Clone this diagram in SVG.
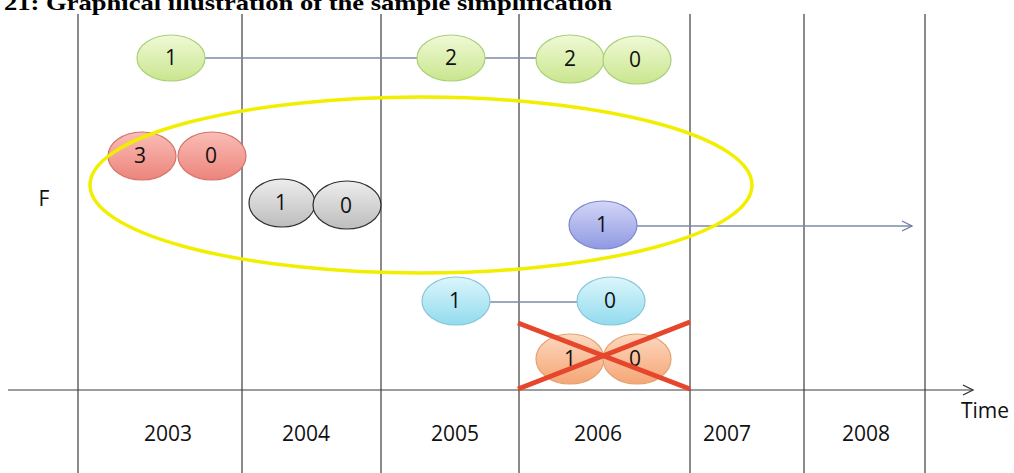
<svg xmlns="http://www.w3.org/2000/svg" width="1014" height="473" viewBox="0 0 1014 473">
<style>
.grid{stroke:#3c3c3c;stroke-width:1.2;fill:none}
.conn{stroke:#7f8aa8;stroke-width:1.3;fill:none}
.lbl{font-family:"Open Sans","Liberation Sans",sans-serif;font-size:21px;fill:#111;text-anchor:middle}
.num{font-family:"Open Sans","Liberation Sans",sans-serif;font-size:21px;fill:#111;text-anchor:middle}
.title{font-family:"Liberation Serif",serif;font-weight:bold;font-size:22px;fill:#000}
</style>
<defs>
<linearGradient id="gG" x1="0" y1="0" x2="0" y2="1"><stop offset="0" stop-color="#f0f9d6"/><stop offset="1" stop-color="#c9e68e"/></linearGradient>
<linearGradient id="gR" x1="0" y1="0" x2="0" y2="1"><stop offset="0" stop-color="#f9bdb6"/><stop offset="1" stop-color="#ec847a"/></linearGradient>
<linearGradient id="gK" x1="0" y1="0" x2="0" y2="1"><stop offset="0" stop-color="#ededed"/><stop offset="1" stop-color="#bdbdbd"/></linearGradient>
<linearGradient id="gB" x1="0" y1="0" x2="0" y2="1"><stop offset="0" stop-color="#d3d6f7"/><stop offset="1" stop-color="#8f99e3"/></linearGradient>
<linearGradient id="gC" x1="0" y1="0" x2="0" y2="1"><stop offset="0" stop-color="#dcf6fb"/><stop offset="1" stop-color="#92dbee"/></linearGradient>
<linearGradient id="gO" x1="0" y1="0" x2="0" y2="1"><stop offset="0" stop-color="#fdd8bf"/><stop offset="1" stop-color="#f5a675"/></linearGradient>
<marker id="arrowAxis" markerUnits="userSpaceOnUse" markerWidth="14" markerHeight="14" refX="11" refY="6" orient="auto"><path d="M1,1 L11,6 L1,11" fill="none" stroke="#333" stroke-width="1.3"/></marker>
<marker id="arrowBlue" markerUnits="userSpaceOnUse" markerWidth="14" markerHeight="14" refX="11" refY="6" orient="auto"><path d="M1,1 L11,6 L1,11" fill="none" stroke="#6d7aa6" stroke-width="1.3"/></marker>
</defs>
<rect width="1014" height="473" fill="#fff"/>
<text class="title" x="4" y="10" textLength="608" lengthAdjust="spacingAndGlyphs">21: Graphical illustration of the sample simplification</text>
<g id="grid">
<line class="grid" x1="78" y1="14" x2="78" y2="473"/>
<line class="grid" x1="242" y1="14" x2="242" y2="473"/>
<line class="grid" x1="381" y1="14" x2="381" y2="473"/>
<line class="grid" x1="519" y1="14" x2="519" y2="473"/>
<line class="grid" x1="690" y1="14" x2="690" y2="473"/>
<line class="grid" x1="804" y1="14" x2="804" y2="473"/>
<line class="grid" x1="925" y1="14" x2="925" y2="473"/>
<line class="grid" x1="8" y1="390" x2="973" y2="390" marker-end="url(#arrowAxis)"/>
</g>
<g id="labels">
<text class="lbl" x="44" y="206">F</text>
<text class="lbl" x="985" y="418">Time</text>
<text class="lbl" x="168" y="441">2003</text>
<text class="lbl" x="306" y="441">2004</text>
<text class="lbl" x="455" y="441">2005</text>
<text class="lbl" x="598" y="441">2006</text>
<text class="lbl" x="727" y="441">2007</text>
<text class="lbl" x="866" y="441">2008</text>
</g>
<g id="connectors">
<line class="conn" x1="205" y1="58" x2="418" y2="58"/>
<line class="conn" x1="485" y1="58" x2="537" y2="58"/>
<line class="conn" x1="490" y1="302" x2="577" y2="302"/>
<line class="conn" x1="637" y1="226" x2="912" y2="226" marker-end="url(#arrowBlue)"/>
</g>
<g id="node-green-1"><ellipse cx="171" cy="58" rx="34" ry="23" fill="url(#gG)" stroke="#a9cf78" stroke-width="1.2"/><text class="num" x="171" y="65">1</text></g>
<g id="node-green-2"><ellipse cx="451" cy="58" rx="34" ry="23" fill="url(#gG)" stroke="#a9cf78" stroke-width="1.2"/><text class="num" x="451" y="65">2</text></g>
<g id="node-green-pair"><ellipse cx="570" cy="59" rx="34" ry="24" fill="url(#gG)" stroke="#a9cf78" stroke-width="1.2"/><ellipse cx="637" cy="60" rx="34" ry="24" fill="url(#gG)" stroke="#a9cf78" stroke-width="1.2"/><text class="num" x="570" y="66">2</text><text class="num" x="635" y="67">0</text></g>
<g id="node-red-pair"><ellipse cx="142" cy="156" rx="34" ry="24" fill="url(#gR)" stroke="#d4736a" stroke-width="1.2"/><ellipse cx="212" cy="156" rx="34" ry="24" fill="url(#gR)" stroke="#d4736a" stroke-width="1.2"/><text class="num" x="140" y="163">3</text><text class="num" x="211" y="163">0</text></g>
<g id="node-gray-pair"><ellipse cx="282" cy="203" rx="33" ry="24" fill="url(#gK)" stroke="#2e2e2e" stroke-width="1.2"/><ellipse cx="347" cy="205" rx="34" ry="24" fill="url(#gK)" stroke="#2e2e2e" stroke-width="1.2"/><text class="num" x="281" y="210">1</text><text class="num" x="346" y="213">0</text></g>
<g id="node-blue"><ellipse cx="603" cy="225" rx="34" ry="24" fill="url(#gB)" stroke="#7c88cc" stroke-width="1.2"/><text class="num" x="602" y="232">1</text></g>
<g id="node-cyan-1"><ellipse cx="456" cy="301" rx="34" ry="24" fill="url(#gC)" stroke="#86c6da" stroke-width="1.2"/><text class="num" x="455" y="308">1</text></g>
<g id="node-cyan-0"><ellipse cx="611" cy="301" rx="34" ry="24" fill="url(#gC)" stroke="#86c6da" stroke-width="1.2"/><text class="num" x="610" y="308">0</text></g>
<g id="node-orange-pair"><ellipse cx="570" cy="359" rx="34" ry="25" fill="url(#gO)" stroke="#e2a272" stroke-width="1.2"/><ellipse cx="637" cy="359" rx="34" ry="25" fill="url(#gO)" stroke="#e2a272" stroke-width="1.2"/><text class="num" x="570" y="366">1</text><text class="num" x="635" y="366">0</text></g>
<g id="highlight"><ellipse cx="421" cy="185" rx="331" ry="88" fill="none" stroke="#f2ee00" stroke-width="3.5"/></g>
<g id="cross"><line x1="518" y1="323" x2="690" y2="389" stroke="#e6462c" stroke-width="5"/><line x1="518" y1="389" x2="690" y2="322" stroke="#e6462c" stroke-width="5"/></g>
</svg>
